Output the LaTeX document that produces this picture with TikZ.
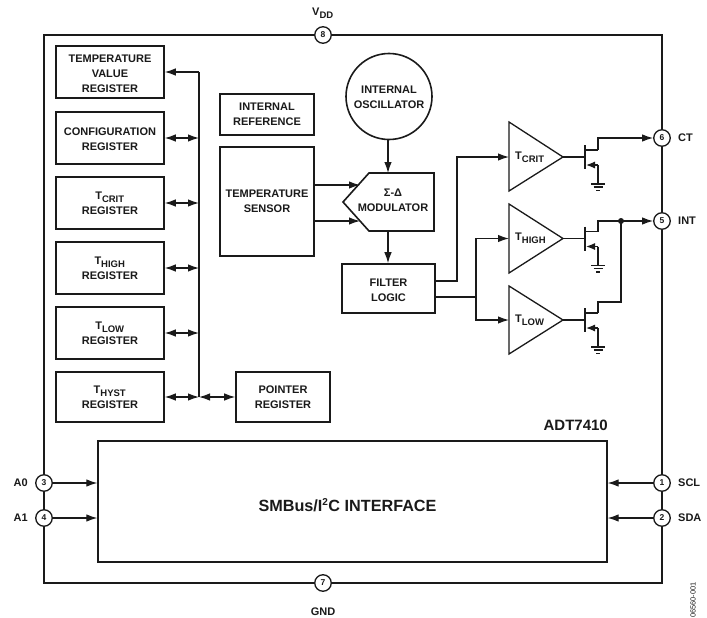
\documentclass[tikz,border=0pt]{standalone}
\usepackage{fontspec}
\setmainfont{Liberation Sans}
\usetikzlibrary{arrows.meta}
\definecolor{ink}{HTML}{1A1A1A}
\tikzset{
  wire/.style={draw=ink,line width=1.2pt},
  sig/.style={wire,-{Latex[length=11pt,width=7.5pt]}},
  bi/.style={wire,{Latex[length=11pt,width=7.5pt]}-{Latex[length=11pt,width=7.5pt]}},
  blk/.style={draw=ink,line width=1.6pt,fill=white,align=center,font=\fontsize{11}{15}\selectfont\bfseries,text=ink,inner sep=0pt},
  pinc/.style={circle,draw=ink,line width=1.3pt,fill=white,minimum size=16.5pt,inner sep=0pt,font=\fontsize{8.5}{10}\selectfont\bfseries,text=ink},
  lbl/.style={font=\fontsize{11}{15}\selectfont\bfseries,text=ink,inner sep=0pt},
  tri/.style={draw=ink,line width=1.3pt,fill=white}
}
\newcommand{\sbs}[2]{#1\textsubscript{\fontsize{9.5}{10}\selectfont#2}}
\newcommand{\fet}[2]{% x of channel, y of gate
  \draw[wire] (#1,#2-12) -- (#1,#2+12);
  \draw[wire] (#1,#2-7) -- (#1+13,#2-7);
  \draw[wire,-{Latex[length=9pt,width=7pt]}] (#1+13,#2+8) -- (#1+1,#2+8);
  \draw[wire] (#1+13,#2+8) -- (#1+13,#2+27);
  \draw[wire] (#1+6,#2+27) -- (#1+20,#2+27);
  \draw[wire] (#1+8.5,#2+30) -- (#1+17.5,#2+30);
  \draw[wire] (#1+11,#2+33.5) -- (#1+15,#2+33.5);
}
\begin{document}
\begin{tikzpicture}[x=1pt,y=-1pt]
\useasboundingbox (0,0) rectangle (707,618);
\fill[white] (0,0) rectangle (707,618);
\draw[draw=ink,line width=1.6pt] (44,35) rectangle (662,583);
% registers
\node[blk,minimum width=108pt,minimum height=52pt] (r1) at (110,72) {};
\node[lbl,align=center] (r1t) at (110,73.5) {TEMPERATURE\\VALUE\\REGISTER};
\node[blk,minimum width=108pt,minimum height=52pt] (r2) at (110,138) {};
\node[lbl,align=center] (r2t) at (110,139) {CONFIGURATION\\REGISTER};
\node[blk,minimum width=108pt,minimum height=52pt] (r3) at (110,203) {\sbs{T}{CRIT}\\REGISTER};
\node[blk,minimum width=108pt,minimum height=52pt] (r4) at (110,268) {\sbs{T}{HIGH}\\REGISTER};
\node[blk,minimum width=108pt,minimum height=52pt] (r5) at (110,333) {\sbs{T}{LOW}\\REGISTER};
\node[blk,minimum width=108pt,minimum height=50pt] (r6) at (110,397) {\sbs{T}{HYST}\\REGISTER};
\node[blk,minimum width=94pt,minimum height=50pt] (ptr) at (283,397) {POINTER\\REGISTER};
\coordinate (bustop) at (199,72);
\coordinate (busbot) at (199,397);
\draw[wire] (bustop) -- (busbot);
\draw[sig] (bustop) -- (r1.east);
\foreach \n in {r2,r3,r4,r5,r6} \draw[bi] (\n.east) -- (\n.east -| busbot);
\draw[bi] (busbot) -- (ptr.west);
% centre
\node[blk,minimum width=94pt,minimum height=41pt] (iref) at (267,114.5) {INTERNAL\\REFERENCE};
\node[blk,minimum width=94pt,minimum height=109pt] (sens) at (267,201.5) {TEMPERATURE\\SENSOR};
\node[blk,circle,minimum size=86pt] (osc) at (389,96.5) {};
\node[lbl,align=center] (osct) at (389,97.5) {INTERNAL\\OSCILLATOR};
\draw[draw=ink,line width=1.6pt,fill=white] (343,202) -- (369,173) -- (434,173) -- (434,231) -- (369,231) -- cycle;
\node[lbl,align=center] (mod) at (393,200) {Σ-Δ\\MODULATOR};
\coordinate (modt) at (388,173);
\coordinate (modb) at (388,231);
\coordinate (modl1) at (360,185);
\coordinate (modl2) at (360,221);
\node[blk,minimum width=93pt,minimum height=49pt] (filt) at (388.5,288.5) {};
\node[lbl,align=center] (filtt) at (388.5,290.5) {FILTER\\LOGIC};
\draw[sig] (osc.south -| modt) -- (modt);
\draw[sig] (modb) -- (filt.north -| modb);
\draw[sig] (sens.east |- modl1) -- (modl1);
\draw[sig] (sens.east |- modl2) -- (modl2);
% triangles
\draw[tri] (509,122) -- (563,157) -- (509,191) -- cycle;
\draw[tri] (509,204) -- (563,238.5) -- (509,273) -- cycle;
\draw[tri] (509,286) -- (563,320) -- (509,354) -- cycle;
\coordinate (c1) at (509,157); \coordinate (c2) at (509,238.5); \coordinate (c3) at (509,320);
\coordinate (t1) at (563,157); \coordinate (t2) at (563,238.5); \coordinate (t3) at (563,320);
\node[lbl,anchor=west] (tc) at (515,157) {\sbs{T}{CRIT}};
\node[lbl,anchor=west] (th) at (515,238.5) {\sbs{T}{HIGH}};
\node[lbl,anchor=west] (tl) at (515,320) {\sbs{T}{LOW}};
\coordinate (f1) at (435,281); \coordinate (f2) at (435,297);
\coordinate (j) at (476,297);
\draw[sig] (f1) -- (457,281) -- (457,157) -- (c1);
\draw[wire] (f2) -- (j);
\draw[sig] (j) -- (476,238.5) -- (c2);
\draw[sig] (j) -- (476,320) -- (c3);
% transistors
\fet{585}{157}
\fet{585}{238.5}
\fet{585}{320}
\draw[wire] (t1) -- (585,157);
\draw[wire] (t2) -- (585,238.5);
\draw[wire] (t3) -- (585,320);
% pins
\node[pinc] (p8) at (323,35) {8};
\node[pinc] (p7) at (323,583) {7};
\node[pinc] (p6) at (662,138) {6};
\node[pinc] (p5) at (662,221) {5};
\node[pinc] (p1) at (662,483) {1};
\node[pinc] (p2) at (662,518) {2};
\node[pinc] (p3) at (44,483) {3};
\node[pinc] (p4) at (44,518) {4};
\draw[sig] (598,150) -- (598,138) -- (p6.west);
\draw[sig] (598,231.5) -- (598,221) -- (p5.west);
\draw[wire] (598,313) -- (598,302) -- (621,302) -- (621,221);
\fill[ink] (621,221) circle (3pt);
\node[lbl] at (323,13) {\sbs{V}{DD}};
\node[lbl] at (323,612) {GND};
\node[lbl,anchor=west] at (678,138) {CT};
\node[lbl,anchor=west] at (678,221) {INT};
\node[lbl,anchor=west] at (678,483) {SCL};
\node[lbl,anchor=west] at (678,518) {SDA};
\node[lbl,anchor=east] at (28,483) {A0};
\node[lbl,anchor=east] at (28,518) {A1};
\node[lbl,font=\fontsize{15}{16}\selectfont\bfseries,anchor=east] at (608,425) {ADT7410};
\node[draw=ink,line width=1.3pt,fill=white,minimum width=509pt,minimum height=121pt,inner sep=0pt] (smb) at (352.5,501.5) {};
\node[lbl,font=\fontsize{16.2}{18}\selectfont\bfseries] (smbt) at (347.5,505) {SMBus/I\textsuperscript{\fontsize{10}{10}\selectfont 2}C INTERFACE};
\draw[sig] (p3.east) -- (smb.west |- p3);
\draw[sig] (p4.east) -- (smb.west |- p4);
\draw[sig] (p1.west) -- (smb.east |- p1);
\draw[sig] (p2.west) -- (smb.east |- p2);
\node[rotate=90,font=\fontsize{7.4}{8}\selectfont,text=ink,inner sep=0pt] at (693,600) {06560-001};
\end{tikzpicture}
\end{document}
